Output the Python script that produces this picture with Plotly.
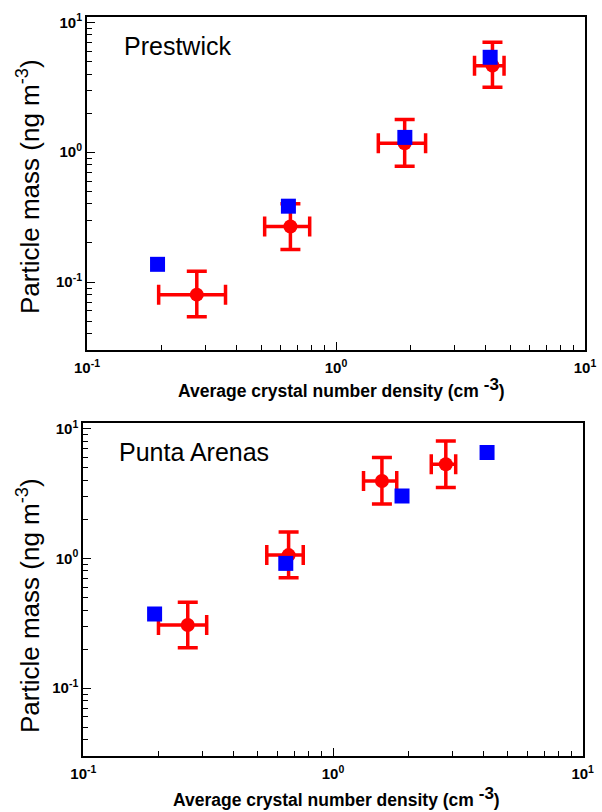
import plotly.graph_objects as go

# ---- data ----
pw_x = [0.276, 0.656, 1.887, 4.25]
pw_y = [0.080, 0.268, 1.17, 4.64]
pw_x_lo = [0.194, 0.517, 1.479, 3.60]
pw_x_hi = [0.360, 0.784, 2.29, 4.73]
pw_y_lo = [0.054, 0.178, 0.78, 3.16]
pw_y_hi = [0.121, 0.401, 1.785, 7.02]
pw_model_x = [0.192, 0.644, 1.89, 4.16]
pw_model_y = [0.137, 0.384, 1.30, 5.38]

pa_x = [0.262, 0.664, 1.57, 2.83]
pa_y = [0.307, 1.06, 3.95, 5.31]
pa_x_lo = [0.200, 0.543, 1.325, 2.475]
pa_x_hi = [0.312, 0.760, 1.80, 3.10]
pa_y_lo = [0.205, 0.709, 2.62, 3.52]
pa_y_hi = [0.459, 1.60, 5.98, 8.03]
pa_model_x = [0.193, 0.647, 1.89, 4.14]
pa_model_y = [0.373, 0.915, 3.03, 6.54]

x_ticks = [0.1, 1, 10]
x_ticktext = ["10<sup>-1</sup>", "10<sup>0</sup>", "10<sup>1</sup>"]
y_ticks = [0.1, 1, 10]
y_ticktext = ["10<sup>-1</sup>", "10<sup>0</sup>", "10<sup>1</sup>"]
x_minor = [0.2, 0.3, 0.4, 0.5, 0.6, 0.7, 0.8, 0.9, 2, 3, 4, 5, 6, 7, 8, 9]
y_minor = [0.04, 0.05, 0.06, 0.07, 0.08, 0.09, 0.2, 0.3, 0.4, 0.5, 0.6, 0.7, 0.8, 0.9,
           2, 3, 4, 5, 6, 7, 8, 9]

W, H = 602, 812
RED = "#ff0000"
BLUE = "#0000ff"


def diff(a, b):
    return [ai - bi for ai, bi in zip(a, b)]


fig = go.Figure()


def add_panel(xa, ya, x, y, xlo, xhi, ylo, yhi, mx, my):
    fig.add_trace(go.Scatter(
        x=x, y=y, mode="markers", xaxis=xa, yaxis=ya,
        marker=dict(symbol="circle", size=14, color=RED),
        error_x=dict(type="data", symmetric=False, array=diff(xhi, x), arrayminus=diff(x, xlo),
                     color=RED, thickness=3.5, width=10),
        error_y=dict(type="data", symmetric=False, array=diff(yhi, y), arrayminus=diff(y, ylo),
                     color=RED, thickness=3.5, width=10),
        showlegend=False))
    fig.add_trace(go.Scatter(
        x=mx, y=my, mode="markers", xaxis=xa, yaxis=ya,
        marker=dict(symbol="square", size=15, color=BLUE),
        showlegend=False))


add_panel("x", "y", pw_x, pw_y, pw_x_lo, pw_x_hi, pw_y_lo, pw_y_hi, pw_model_x, pw_model_y)
add_panel("x2", "y2", pa_x, pa_y, pa_x_lo, pa_x_hi, pa_y_lo, pa_y_hi, pa_model_x, pa_model_y)

tickfont = dict(family="Liberation Sans, Arial, sans-serif", size=15, color="black", weight="bold")


def xaxis(dom, anchor):
    return dict(type="log", range=[-1, 1], domain=dom, anchor=anchor,
                showline=True, linecolor="black", linewidth=2, mirror=True,
                showgrid=False, zeroline=False,
                tickmode="array", tickvals=x_ticks, ticktext=x_ticktext,
                ticks="inside", ticklen=8, tickwidth=1, tickcolor="black",
                minor=dict(tickmode="array", tickvals=x_minor, ticks="inside",
                           ticklen=5, tickwidth=1, tickcolor="black", showgrid=False),
                tickfont=tickfont, automargin=False, ticklabelstandoff=3)


def yaxis(dom, anchor):
    return dict(type="log", range=[-1.523, 1.041], domain=dom, anchor=anchor,
                showline=True, linecolor="black", linewidth=2, mirror=True,
                showgrid=False, zeroline=False,
                tickmode="array", tickvals=y_ticks, ticktext=y_ticktext,
                ticks="inside", ticklen=8, tickwidth=1, tickcolor="black",
                minor=dict(tickmode="array", tickvals=y_minor, ticks="inside",
                           ticklen=5, tickwidth=1, tickcolor="black", showgrid=False),
                tickfont=tickfont, automargin=False)


fig.update_layout(
    width=W, height=H,
    margin=dict(l=0, r=0, t=0, b=0),
    paper_bgcolor="white", plot_bgcolor="white",
    xaxis=xaxis([87 / W, 585 / W], "y"),
    yaxis=yaxis([1 - 350 / H, 1 - 17 / H], "x"),
    xaxis2=xaxis([83.3 / W, 582.7 / W], "y2"),
    yaxis2=yaxis([1 - 756 / H, 1 - 423.3 / H], "x2"),
)

title_font = dict(family="Liberation Sans, Arial, sans-serif", size=17.5, color="black", weight="bold")
ylab_font = dict(family="Liberation Sans, Arial, sans-serif", size=26, color="black")
site_font = dict(family="Liberation Sans, Arial, sans-serif", size=25, color="black")

xtitle = "Average crystal number density (cm <sup><span style='font-size:17px'>-3</span></sup>)"

anns = [
    dict(text="Prestwick", x=122 / W, y=1 - 46 / H, xanchor="left", yanchor="middle", font=site_font),
    dict(text="Punta Arenas", x=117 / W, y=1 - 452 / H, xanchor="left", yanchor="middle", font=site_font),
    dict(text="Particle mass (ng m<sup>-3</sup>)", x=28 / W, y=1 - 187 / H, textangle=-90,
         xanchor="center", yanchor="middle", font=ylab_font),
    dict(text="Particle mass (ng m<sup>-3</sup>)", x=28 / W, y=1 - 606 / H, textangle=-90,
         xanchor="center", yanchor="middle", font=ylab_font),
    dict(text=xtitle, x=342 / W, y=1 - 388 / H,
         xanchor="center", yanchor="middle", font=title_font),
    dict(text=xtitle, x=336 / W, y=1 - 797 / H,
         xanchor="center", yanchor="middle", font=title_font),
]
for a in anns:
    a.update(xref="paper", yref="paper", showarrow=False)
fig.update_layout(annotations=anns)

fig.write_html("out.html", config={"displayModeBar": False},
               post_script="document.body.style.margin='0px';")
